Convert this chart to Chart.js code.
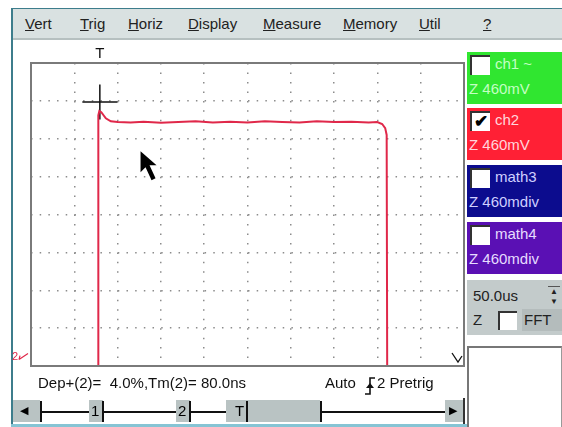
<!DOCTYPE html>
<html>
<head>
<meta charset="utf-8">
<script src="https://cdn.jsdelivr.net/npm/chart.js@4"></script>
<style>
  body { margin: 0; width: 562px; height: 427px; background: #fff; overflow: hidden;
         font-family: 'Liberation Sans', Arial, sans-serif; position: relative; }
  .abs { position: absolute; }
  #win { left: 11px; top: 8px; width: 551px; height: 416px; border-left: 2px solid #3d7d8c; border-top: 1px solid #3d7d8c; }
  #bottomEdge { left: 11px; top: 424px; width: 551px; height: 3px; background: #86c4d4; }
  #menu { left: 13px; top: 9px; width: 549px; height: 29px; background: #d9e1e1; border-bottom: 2px solid #b6c0c0; }
  .mi { position: absolute; top: 6px; font-size: 15px; color: #222; }
  #plotWrap { left: 12px; top: 41px; width: 454px; height: 334px; }
  .box { position: absolute; left: 467px; width: 95px; height: 52px; font-size: 15px; }
  .box .cb { position: absolute; left: 3px; top: 3px; width: 18px; height: 18px; background: #fff;
             border-left: 2px solid #333; border-top: 2px solid #333; font-size: 17px; line-height: 18px;
             text-align: center; color: #000; font-weight: bold; }
  .box .l1 { position: absolute; left: 28px; top: 3px; }
  .box .l2 { position: absolute; left: 2px; top: 28px; }
  #info { left: 38px; top: 374px; font-size: 15px; white-space: pre; color: #111; }
  .sb { position: absolute; background: #b9c3c3; }
  .bar { position: absolute; width: 2px; height: 21px; top: 401px; background: #111; }
</style>
</head>
<body>
<div id="win" class="abs"></div>
<div id="bottomEdge" class="abs"></div>
<div id="menu" class="abs">
  <span class="mi" style="left:12px"><u>V</u>ert</span>
  <span class="mi" style="left:67px"><u>T</u>rig</span>
  <span class="mi" style="left:115px"><u>H</u>oriz</span>
  <span class="mi" style="left:175px"><u>D</u>isplay</span>
  <span class="mi" style="left:250px"><u>M</u>easure</span>
  <span class="mi" style="left:330px"><u>M</u>emory</span>
  <span class="mi" style="left:406px"><u>U</u>til</span>
  <span class="mi" style="left:470px"><u>?</u></span>
</div>

<div id="plotWrap" class="abs"><canvas id="scope" width="454" height="334"></canvas></div>

<div class="box" style="top:52px;background:#30e630;color:#c4ffc4"><div class="cb"></div><div class="l1">ch1 ~</div><div class="l2">Z 460mV</div></div>
<div class="box" style="top:108px;background:#ff2035;color:#ffd6dc"><div class="cb">&#10004;</div><div class="l1">ch2</div><div class="l2">Z 460mV</div></div>
<div class="box" style="top:165px;background:#0c0c8e;color:#d0d0ff"><div class="cb"></div><div class="l1">math3</div><div class="l2">Z 460mdiv</div></div>
<div class="box" style="top:222px;background:#5a10b4;color:#e6dcff"><div class="cb"></div><div class="l1">math4</div><div class="l2">Z 460mdiv</div></div>

<div class="abs" style="left:467px;top:280px;width:95px;height:55px;background:#c3cbcb;font-size:15px;color:#222">
  <div class="abs" style="left:6px;top:7px">50.0us</div>
  <div class="abs" style="left:81px;top:6px;width:12px;height:22px;font-size:8px;line-height:10px;text-align:center;border-top:1px solid #555">&#9650;<br>&#9660;</div>
  <div class="abs" style="left:6px;top:31px">Z</div>
  <div class="abs" style="left:31px;top:31px;width:17px;height:17px;background:#fff;border-left:2px solid #333;border-top:2px solid #333"></div>
  <div class="abs" style="left:55px;top:29px;width:40px;height:22px;background:#b4bcbc"></div>
  <div class="abs" style="left:57px;top:31px">FFT</div>
</div>
<div class="abs" style="left:467px;top:346px;width:92px;height:81px;background:#fff;border-left:2px solid #777;border-top:2px solid #777;border-right:1px solid #999"></div>

<div id="info" class="abs">Dep+(2)=  4.0%,Tm(2)= 80.0ns</div>
<div class="abs" style="left:325px;top:374px;font-size:15px;color:#111">Auto</div>
<svg class="abs" style="left:363px;top:376px" width="14" height="20">
  <polyline points="2,18 7,18 7,2 12,2" fill="none" stroke="#111" stroke-width="1.6"/>
  <polygon points="7,7 3,12 11,12" fill="#111"/>
</svg>
<div class="abs" style="left:377px;top:374px;font-size:15px;color:#111">2 Pretrig</div>

<!-- scrollbar -->
<div class="sb" style="left:13px;top:400px;width:27px;height:22px"></div>
<div class="abs" style="left:20px;top:404px;font-size:11px">&#9664;</div>
<div class="abs" style="left:41px;top:411px;width:404px;height:2px;background:#111"></div>
<div class="sb" style="left:89px;top:400px;width:14px;height:22px"></div>
<div class="abs" style="left:91px;top:402px;font-size:15px">1</div>
<div class="sb" style="left:176px;top:400px;width:14px;height:22px"></div>
<div class="abs" style="left:178px;top:402px;font-size:15px">2</div>
<div class="sb" style="left:226px;top:400px;width:94px;height:22px"></div>
<div class="abs" style="left:235px;top:402px;font-size:15px">T</div>
<div class="bar" style="left:40px"></div>
<div class="bar" style="left:102px"></div>
<div class="bar" style="left:189px"></div>
<div class="bar" style="left:246px"></div>
<div class="bar" style="left:320px"></div>
<div class="sb" style="left:445px;top:400px;width:18px;height:22px"></div>
<div class="abs" style="left:449px;top:404px;font-size:11px">&#9654;</div>
<div class="abs" style="left:463px;top:398px;width:2px;height:26px;background:#333"></div>

<script>
// scope screen: 10 horizontal x 8 vertical divisions
const xDivs = 10;
const yDivs = 8;

// ch2 trace, in divisions (x from left edge, y from bottom edge)
const traceX = [1.555, 1.555, 1.578, 1.624, 1.728, 1.843, 2.005, 2.3, 2.6, 3.0, 3.4, 3.8, 4.2, 4.6, 5.0, 5.4, 5.8, 6.2, 6.6, 7.0, 7.4, 7.8, 7.995, 8.11, 8.18, 8.214, 8.226];
const traceY = [0, 6.62, 6.73, 6.70, 6.54, 6.46, 6.44, 6.43, 6.45, 6.42, 6.44, 6.46, 6.43, 6.45, 6.43, 6.46, 6.44, 6.43, 6.46, 6.44, 6.45, 6.43, 6.44, 6.39, 6.28, 6.10, 0];

// cursor cross and trigger mark
const cursorX = [1.59];
const cursorY = [6.97];
const trigX = 1.59;
const groundY = 0.25;
const pointerAt = [2.53, 5.67];

const frame = {
  id: 'frame',
  afterDraw(chart) {
    const c = chart.ctx, a = chart.chartArea;
    const xs = chart.scales.x, ys = chart.scales.y;
    c.save();
    c.strokeStyle = '#7a7a7a';
    c.lineWidth = 2;
    c.strokeRect(a.left, a.top, a.right - a.left, a.bottom - a.top);

    // T mark above the screen
    c.fillStyle = '#111';
    c.font = '15px "Liberation Sans", Arial';
    c.textAlign = 'center';
    c.textBaseline = 'bottom';
    c.fillText('T', xs.getPixelForValue(trigX), a.top - 2);

    // ch2 ground reference
    const gy = ys.getPixelForValue(groundY);
    c.fillStyle = '#e0284a';
    c.font = '11px "Liberation Sans", Arial';
    c.textAlign = 'left';
    c.textBaseline = 'middle';
    c.fillText('2', 0, gy);
    c.strokeStyle = '#e0284a';
    c.lineWidth = 1.2;
    c.beginPath();
    c.moveTo(7, gy + 3); c.lineTo(a.left - 3, gy - 3);
    c.moveTo(7, gy + 3); c.lineTo(8, gy - 1);
    c.stroke();

    // trigger level mark bottom right
    c.strokeStyle = '#111';
    c.lineWidth = 1.3;
    c.beginPath();
    c.moveTo(a.right - 12, a.bottom - 13);
    c.lineTo(a.right - 6, a.bottom - 4);
    c.lineTo(a.right - 2, a.bottom - 10);
    c.stroke();

    // mouse pointer
    const px = xs.getPixelForValue(pointerAt[0]), py = ys.getPixelForValue(pointerAt[1]);
    c.fillStyle = '#000';
    c.beginPath();
    c.moveTo(px, py);
    c.lineTo(px, py + 21);
    c.lineTo(px + 5, py + 16);
    c.lineTo(px + 11, py + 29);
    c.lineTo(px + 15, py + 27);
    c.lineTo(px + 9, py + 14);
    c.lineTo(px + 16, py + 14);
    c.closePath();
    c.fill();
    c.restore();
  }
};

new Chart(document.getElementById('scope').getContext('2d'), {
  type: 'line',
  data: {
    datasets: [
      {
        data: traceX.map((x, i) => ({ x: x, y: traceY[i] })),
        borderColor: '#e0284a',
        borderWidth: 2,
        pointRadius: 0,
        tension: 0
      },
      {
        data: cursorX.map((x, i) => ({ x: x, y: cursorY[i] })),
        showLine: false,
        pointStyle: 'cross',
        pointRadius: 17.5,
        borderColor: '#111',
        borderWidth: 1.5,
        clip: false
      }
    ]
  },
  options: {
    responsive: false,
    animation: false,
    devicePixelRatio: 1,
    layout: { autoPadding: false, padding: { left: 19, top: 22, right: 2, bottom: 9 } },
    plugins: { legend: { display: false }, tooltip: { enabled: false } },
    scales: {
      x: {
        type: 'linear', min: 0, max: xDivs,
        ticks: { display: false, stepSize: 1 },
        grid: { drawTicks: false, color: '#8c8c8c', lineWidth: 1.5 },
        border: { display: false, dash: [1.5, 7.97] },
        afterFit(s) { s.height = 0; s.paddingLeft = 0; s.paddingRight = 0; }
      },
      y: {
        type: 'linear', min: 0, max: yDivs,
        ticks: { display: false, stepSize: 1 },
        grid: { drawTicks: false, color: '#8c8c8c', lineWidth: 1.5 },
        border: { display: false, dash: [1.5, 7.18] },
        afterFit(s) { s.width = 0; s.paddingTop = 0; s.paddingBottom = 0; }
      }
    }
  },
  plugins: [frame]
});
</script>
</body>
</html>
